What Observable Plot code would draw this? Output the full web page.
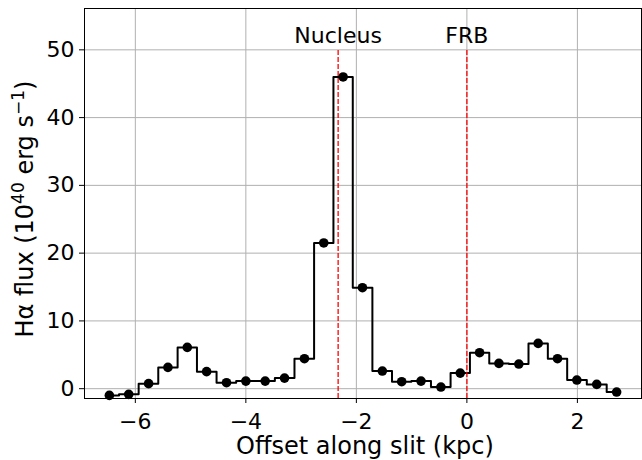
<!DOCTYPE html>
<html><head><meta charset="utf-8">
<script src="https://cdn.jsdelivr.net/npm/d3@7"></script>
<script src="https://cdn.jsdelivr.net/npm/@observablehq/plot@0.6"></script>
<style>body{margin:0;background:#fff}</style>
</head><body><div id="chart"></div>
<script>
// Data
const offsets = [-6.47, -6.12, -5.76, -5.41, -5.06, -4.71, -4.35, -4.00, -3.65, -3.30, -2.94, -2.59, -2.24,
                 -1.89, -1.53, -1.18, -0.83, -0.47, -0.12, 0.23, 0.58, 0.94, 1.29, 1.64, 1.99, 2.35, 2.71];
const fluxes = [-0.99, -0.84, 0.74, 3.14, 6.09, 2.51, 0.88, 1.12, 1.12, 1.56, 4.42, 21.5, 46.0,
                14.9, 2.6, 1.03, 1.12, 0.24, 2.30, 5.31, 3.73, 3.63, 6.68, 4.42, 1.27, 0.63, -0.50];
const markerNames = ["Nucleus", "FRB"];
const markerOffsets = [-2.33, 0];
const markerTop = 50;
const markerLabelY = 51;
const xTicks = [-6, -4, -2, 0, 2];
const yTicks = [0, 10, 20, 30, 40, 50];
const xLabel = "Offset along slit (kpc)";
const xDomain = [-6.92, 3.16];
const yDomain = [-1.45, 56.1];

const data = offsets.map((x, i) => ({x, y: fluxes[i]}));
const markers = markerNames.map((name, i) => ({name, x: markerOffsets[i], top: markerTop, bottom: yDomain[0], ly: markerLabelY}));
const fmt = d => d < 0 ? "\u2212" + Math.abs(d) : String(d);

const plot = Plot.plot({
  width: 642, height: 460,
  marginLeft: 84, marginRight: 1, marginTop: 8, marginBottom: 62,
  style: {fontFamily: "DejaVu Sans", fontSize: "22px", background: "#fff", color: "#000"},
  x: {domain: xDomain},
  y: {domain: yDomain},
  marks: [
    Plot.gridX(xTicks, {stroke: "#b0b0b0", strokeOpacity: 1, strokeWidth: 1}),
    Plot.gridY(yTicks, {stroke: "#b0b0b0", strokeOpacity: 1, strokeWidth: 1}),
    Plot.axisX(xTicks, {tickSize: 5, tickPadding: 10, tickFormat: fmt, label: null, fontSize: 22}),
    Plot.axisY(yTicks, {tickSize: 5, tickPadding: 5, tickFormat: fmt, label: null, fontSize: 22}),
    Plot.line(data, {x: "x", y: "y", curve: "step", stroke: "black", strokeWidth: 2}),
    Plot.ruleX(markers, {x: "x", y1: "bottom", y2: "top", stroke: "red", strokeDasharray: "5,2", strokeWidth: 1.3}),
    Plot.dot(data, {x: "x", y: "y", r: 4.8, fill: "black"}),
    Plot.text(markers, {x: "x", y: "ly", text: "name", lineAnchor: "bottom", fontSize: 22, fill: "black"}),
    Plot.frame({stroke: "#000", strokeWidth: 1})
  ]
});

const svg = d3.select(plot);
svg.append("text")
  .attr("x", 365).attr("y", 454)
  .attr("text-anchor", "middle")
  .attr("font-family", "DejaVu Sans").attr("font-size", 24).attr("fill", "#000")
  .text(xLabel);

const yl = svg.append("text")
  .attr("transform", "translate(33,209) rotate(-90)")
  .attr("text-anchor", "middle")
  .attr("font-family", "DejaVu Sans").attr("font-size", 24).attr("fill", "#000");
yl.append("tspan").text("H\u03b1 flux (10");
yl.append("tspan").attr("dy", -9).attr("font-size", 17).text("40");
yl.append("tspan").attr("dy", 9).text(" erg s");
yl.append("tspan").attr("dy", -9).attr("font-size", 17).text("\u22121");
yl.append("tspan").attr("dy", 9).text(")");

document.getElementById("chart").appendChild(plot);
</script>
</body></html>
